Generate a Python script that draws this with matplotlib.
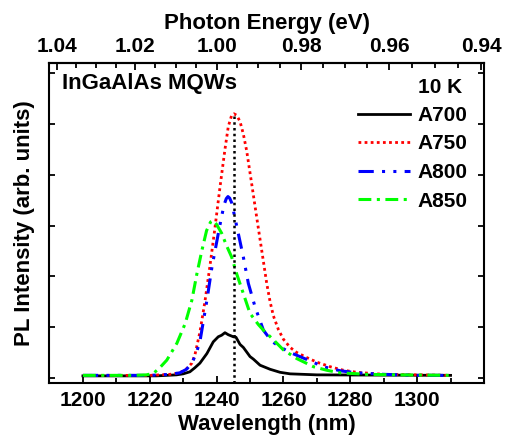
import numpy as np
import matplotlib
matplotlib.use('Agg')
import matplotlib.pyplot as plt
from matplotlib.ticker import FixedLocator, NullFormatter

plt.rcParams['font.family'] = ['Liberation Sans', 'DejaVu Sans']
plt.rcParams['font.weight'] = 'bold'
plt.rcParams['font.size'] = 15

# Datos (longitud de onda en nm, intensidad en u.a.)
wl_a700 = [1200, 1222, 1228, 1230, 1232, 1233.5, 1235, 1237.1, 1239, 1240.5, 1241.5, 1242.5,
           1243.5, 1245, 1245.8, 1247, 1248, 1250, 1251, 1253, 1256, 1259, 1262, 1270, 1310]
a700 = [0.04, 0.04, 0.06, 0.08, 0.12, 0.2, 0.29, 0.48, 0.71, 0.81, 0.84, 0.89,
        0.85, 0.81, 0.8, 0.66, 0.6, 0.42, 0.37, 0.25, 0.17, 0.11, 0.08, 0.06, 0.05]

wl_a750 = [1200, 1220, 1226, 1229, 1231, 1232.6, 1233.5, 1235, 1236.5, 1238, 1239.5, 1241,
           1242.5, 1243.5, 1244.5, 1245.2, 1246, 1247, 1248, 1249, 1250.5, 1252, 1253.5, 1255,
           1256, 1257, 1258.5, 1260, 1262, 1264, 1267, 1270, 1274, 1278, 1282, 1290, 1300, 1310]
a750 = [0.05, 0.05, 0.07, 0.1, 0.18, 0.29, 0.45, 0.9, 1.5, 2.2, 2.95, 3.75,
        4.5, 4.95, 5.17, 5.2, 5.17, 5.05, 4.8, 4.47, 3.82, 3.16, 2.51, 1.86,
        1.5, 1.22, 0.95, 0.76, 0.6, 0.5, 0.4, 0.31, 0.22, 0.15, 0.11, 0.07, 0.06, 0.05]

wl_a800 = [1200, 1220, 1226, 1229, 1231, 1232.6, 1234, 1235.1, 1236, 1237.1, 1238.6, 1240.5,
           1241.5, 1242.3, 1242.9, 1243.4, 1243.9, 1244.5, 1245, 1246.5, 1248, 1249.5, 1251.5,
           1254, 1256.5, 1259, 1262, 1266, 1272, 1277, 1282, 1290, 1300, 1310]
a800 = [0.05, 0.05, 0.07, 0.1, 0.17, 0.29, 0.5, 0.75, 1.1, 1.53, 2.18, 2.84,
        3.18, 3.42, 3.53, 3.57, 3.54, 3.45, 3.3, 2.84, 2.38, 1.86, 1.4,
        0.94, 0.72, 0.61, 0.5, 0.39, 0.22, 0.14, 0.1, 0.07, 0.05, 0.05]

wl_a850 = [1200, 1215, 1219, 1221.1, 1223, 1225.1, 1228.1, 1230.6, 1232.6, 1234.1, 1235.6, 1237,
           1238.2, 1239, 1240, 1241.5, 1243, 1244.5, 1246, 1248, 1250, 1252.5, 1254, 1257,
           1260, 1264, 1269, 1273, 1277, 1285, 1295, 1310]
a850 = [0.05, 0.05, 0.06, 0.09, 0.2, 0.35, 0.68, 1.07, 1.53, 2.05, 2.51, 2.9,
        3.07, 3.1, 3.02, 2.85, 2.6, 2.38, 2.05, 1.66, 1.27, 1.05, 0.94, 0.75,
        0.55, 0.38, 0.22, 0.15, 0.1, 0.07, 0.06, 0.05]

peak_line_nm = 1245.3
energy_ticks = [1.04, 1.02, 1.00, 0.98, 0.96, 0.94]
energy_minor = [1.035, 1.03, 1.025, 1.015, 1.01, 1.005, 0.995, 0.99, 0.985,
                0.975, 0.97, 0.965, 0.955, 0.95, 0.945]

fig = plt.figure(figsize=(5.06, 4.38), dpi=100)
ax = fig.add_axes([0.0978, 0.1256, 0.8587, 0.7306])

ax.plot(wl_a700, a700, color='black', lw=2.0, ls='-', label='A700')
ax.plot(wl_a750, a750, color='red', lw=2.0, ls=(0, (1, 1.2)), label='A750')
ax.plot(wl_a800, a800, color='blue', lw=2.2, ls=(0, (5, 2.7, 1, 2.7, 1, 2.7)), label='A800')
ax.plot(wl_a850, a850, color='#00ff00', lw=2.2, ls=(0, (4.2, 1.8, 1, 1.8)), label='A850')

ax.set_xlim(1190, 1320)
ax.set_ylim(-0.1, 6.2)
ax.vlines(peak_line_nm, -0.1, max(a750), colors='black', linestyles=(0, (1, 1.3)), lw=1.8)

# Ejes
ax.set_xticks([1200, 1220, 1240, 1260, 1280, 1300])
ax.xaxis.set_minor_locator(FixedLocator([1210, 1230, 1250, 1270, 1290, 1310]))
ax.set_yticks(range(7))
ax.set_yticklabels([])
ax.tick_params(axis='x', which='major', direction='in', length=5, width=1.3, pad=6, top=False)
ax.tick_params(axis='x', which='minor', direction='in', length=3.5, width=1.3, top=False)
ax.tick_params(axis='y', which='major', direction='in', length=4, width=1.3, right=True)
for s in ax.spines.values():
    s.set_linewidth(1.5)

ax.set_xlabel('Wavelength (nm)', fontweight='bold', fontsize=16, labelpad=3)
ax.set_ylabel('PL Intensity (arb. units)', fontweight='bold', fontsize=16, labelpad=7)

sec = ax.secondary_xaxis('top', functions=(lambda x: 1240.0 / x, lambda e: 1240.0 / e))
sec.set_xticks(energy_ticks)
sec.set_xticklabels(['%.2f' % e for e in energy_ticks])
sec.xaxis.set_minor_locator(FixedLocator(energy_minor))
sec.xaxis.set_minor_formatter(NullFormatter())
sec.tick_params(axis='x', which='major', direction='in', length=5, width=1.3, pad=5)
sec.tick_params(axis='x', which='minor', direction='in', length=3.5, width=1.3)
sec.spines['top'].set_linewidth(1.5)
sec.set_xlabel('Photon Energy (eV)', fontweight='bold', fontsize=16, labelpad=6)

ax.text(0.029, 0.936, 'InGaAlAs MQWs', transform=ax.transAxes, ha='left', va='center',
        fontweight='bold', fontsize=16)
ax.text(0.848, 0.922, '10 K', transform=ax.transAxes, ha='left', va='center',
        fontweight='bold', fontsize=15)

ax.legend(loc='upper left', bbox_to_anchor=(0.71, 0.866), frameon=False, borderpad=0,
          borderaxespad=0, handlelength=2.5, handletextpad=0.38, labelspacing=0.46,
          prop={'weight': 'bold', 'size': 15})

fig.savefig('out.png', dpi=100)
